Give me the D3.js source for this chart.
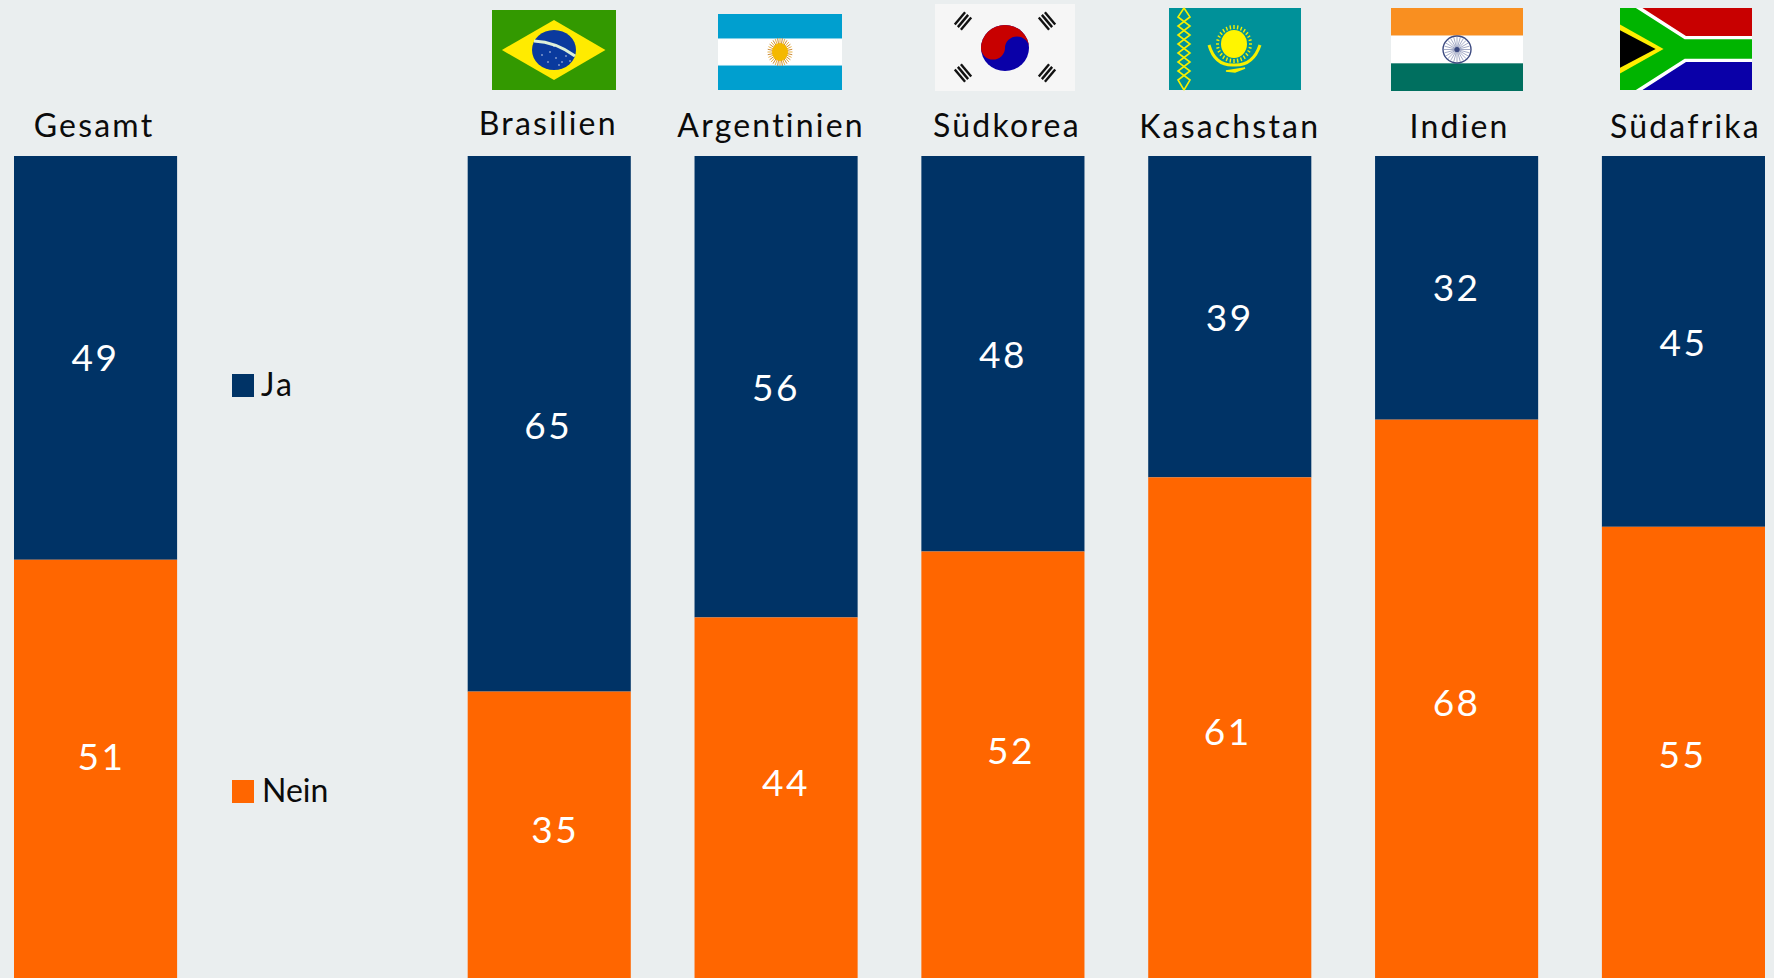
<!DOCTYPE html>
<html lang="de">
<head>
<meta charset="utf-8">
<title>Ja / Nein nach Ländern</title>
<script src="https://cdn.jsdelivr.net/npm/d3@7"></script>
<style>
  html, body { margin: 0; padding: 0; background: #EAEEEF; overflow: hidden; }
  svg { display: block; }
  text { font-family: Lato, "Open Sans", sans-serif; }
</style>
</head>
<body>
<svg id="chart" width="1774" height="978"></svg>
<script>
const categories = ["Gesamt", "Brasilien", "Argentinien", "Südkorea", "Kasachstan", "Indien", "Südafrika"];
const jaValues   = [49, 65, 56, 48, 39, 32, 45];
const neinValues = [51, 35, 44, 52, 61, 68, 55];
const seriesNames = ["Ja", "Nein"];

const NAVY = "#003366", ORANGE = "#FF6600";

// Slot order along the x axis; the empty slot holds the legend.
const slots = ["Gesamt", "_legend", ...categories.slice(1)];

const svg = d3.select("#chart");
const x = d3.scaleBand().domain(slots).range([14, 1765]).paddingInner(0.281);
const y = d3.scaleLinear().domain([0, 100]).range([156, 980]);

// Hand placement of the value labels and headings relative to their defaults.
const jaNudge   = [[0, 0], [-1, 2], [0, 1], [0, 1], [0, 1], [0, 0], [0, 2]];
const neinNudge = [[6, -13], [6, -6], [10, -16], [8, -15], [-2, 3], [0, 3], [-1, 2]];
const headNudge = [[-1.5, 137], [-1, 135], [-5, 137], [4, 137], [0, 138], [3, 138], [2, 138]];

const rows = categories.map((c, i) => ({ c, i, ja: jaValues[i], nein: neinValues[i] }));
const cols = svg.selectAll("g.col").data(rows).join("g").attr("class", "col");

cols.append("rect")
  .attr("x", d => x(d.c)).attr("width", x.bandwidth())
  .attr("y", y(0)).attr("height", d => y(d.ja) - y(0))
  .attr("fill", NAVY);
cols.append("rect")
  .attr("x", d => x(d.c)).attr("width", x.bandwidth())
  .attr("y", d => y(d.ja)).attr("height", d => y(d.ja + d.nein) - y(d.ja))
  .attr("fill", ORANGE);

const valueText = (sel) => sel
  .attr("text-anchor", "middle").attr("fill", "#fff")
  .attr("font-size", 37).attr("letter-spacing", 2.5).attr("font-weight", 400);

cols.append("text").call(valueText)
  .attr("x", d => x(d.c) + x.bandwidth() / 2 + jaNudge[d.i][0])
  .attr("y", d => (y(0) + y(d.ja)) / 2 + jaNudge[d.i][1] + 13)
  .text(d => d.ja);
cols.append("text").call(valueText)
  .attr("x", d => x(d.c) + x.bandwidth() / 2 + neinNudge[d.i][0])
  .attr("y", d => (y(d.ja) + y(100)) / 2 + neinNudge[d.i][1] + 13)
  .text(d => d.nein);

cols.append("text")
  .attr("x", d => x(d.c) + x.bandwidth() / 2 + headNudge[d.i][0])
  .attr("y", d => headNudge[d.i][1])
  .attr("text-anchor", "middle").attr("fill", "#0b0b0b")
  .attr("font-size", 32).attr("letter-spacing", 2.2)
  .text(d => d.c);

// Legend
const legendY = [374, 780];
const legend = svg.selectAll("g.leg").data(seriesNames).join("g").attr("class", "leg");
legend.append("rect")
  .attr("x", 232).attr("y", (d, i) => legendY[i])
  .attr("width", 22).attr("height", 23)
  .attr("fill", (d, i) => i ? ORANGE : NAVY);
legend.append("text")
  .attr("x", (d, i) => i ? 262 : 261).attr("y", (d, i) => legendY[i] + 22)
  .attr("fill", "#0b0b0b").attr("font-size", 32)
  .attr("letter-spacing", (d, i) => i ? 0 : 2)
  .text(d => d);

// Flags, drawn in a unit box so each can be stretched to its slot.
function flagGroup(bx, by, bw, bh) {
  const g = svg.append("g").attr("transform", `translate(${bx},${by})`);
  const sx = d3.scaleLinear().domain([0, 1]).range([0, bw]);
  const sy = d3.scaleLinear().domain([0, 1]).range([0, bh]);
  const rect = (a, b, c, d, fill) => g.append("rect")
    .attr("x", sx(a)).attr("y", sy(b)).attr("width", sx(c - a)).attr("height", sy(d - b)).attr("fill", fill);
  const poly = (pts, fill) => g.append("polygon")
    .attr("points", pts.map(q => [sx(q[0]), sy(q[1])].join(",")).join(" ")).attr("fill", fill);
  return { g, sx, sy, rect, poly, bw, bh };
}

// Brasilien
{
  const f = flagGroup(492, 10, 124, 80);
  f.rect(0, 0, 1, 1, "#339900");
  f.poly([[.08, .5], [.5, .125], [.915, .5], [.5, .875]], "#FFEB00");
  f.g.append("ellipse").attr("cx", 62).attr("cy", 40).attr("rx", 22).attr("ry", 20).attr("fill", "#0A3A9E");
  f.g.append("path").attr("d", "M42,31 Q64,32 83,46").attr("fill", "none").attr("stroke", "#DCEFD8").attr("stroke-width", 3);
  [[50, 45], [58, 42], [64, 48], [70, 52], [56, 52], [74, 46], [62, 36], [67, 55], [78, 51]].forEach(p =>
    f.g.append("circle").attr("cx", p[0]).attr("cy", p[1]).attr("r", .7).attr("fill", "#fff"));
}

// Argentinien
{
  const f = flagGroup(718, 14, 124, 76);
  f.rect(0, 0, 1, 1, "#009FCF");
  f.rect(0, .32, 1, .68, "#BFE6F2");
  f.rect(0, .33, 1, .67, "#FFFFFF");
  const cx = 62, cy = 38;
  d3.range(32).forEach(k => {
    const a = k / 32 * 2 * Math.PI;
    f.g.append("line")
      .attr("x1", cx).attr("y1", cy)
      .attr("x2", cx + 12.5 * Math.cos(a)).attr("y2", cy + 14 * Math.sin(a))
      .attr("stroke", k % 2 ? "#C98A3A" : "#E8B040").attr("stroke-width", 1);
  });
  f.g.append("ellipse").attr("cx", cx).attr("cy", cy).attr("rx", 8).attr("ry", 9).attr("fill", "#F4B800");
}

// Südkorea
{
  const f = flagGroup(935, 4, 140, 87);
  f.rect(0, 0, 1, 1, "#F6F6F6");
  const cx = 70, cy = 44, rx = 24, ry = 23;
  f.g.append("ellipse").attr("cx", cx).attr("cy", cy).attr("rx", rx).attr("ry", ry).attr("fill", "#0A00A8");
  f.g.append("path")
    .attr("d", `M${cx - rx},${cy} A${rx},${ry} 0 0 1 ${cx + rx},${cy} A${rx / 2},${ry / 2} 0 0 0 ${cx},${cy} A${rx / 2},${ry / 2} 0 0 1 ${cx - rx},${cy} Z`)
    .attr("fill", "#C80000");
  // Trigram bars at the four corners
  [[28, 17, -50], [112, 17, 50], [28, 69, 50], [112, 69, -50]].forEach(t => {
    const tg = f.g.append("g").attr("transform", `translate(${t[0]},${t[1]}) rotate(${t[2]})`);
    [-4, 0, 4].forEach(o => tg.append("rect").attr("x", -8).attr("y", o - 1.2).attr("width", 16).attr("height", 2.4).attr("fill", "#111"));
  });
}

// Kasachstan
{
  const f = flagGroup(1169, 8, 132, 82);
  f.rect(0, 0, 1, 1, "#009199");
  const Y = "#F5F000";
  f.g.append("path")
    .attr("d", "M15,0 L9,9 L21,18 L9,27 L21,36 L9,45 L21,54 L9,63 L21,72 L15,82 M15,0 L21,9 L9,18 L21,27 L9,36 L21,45 L9,54 L21,63 L9,72 L15,82")
    .attr("fill", "none").attr("stroke", Y).attr("stroke-width", 1.6);
  const cx = 65, cy = 36;
  d3.range(28).forEach(k => {
    const a = k / 28 * 2 * Math.PI;
    f.g.append("line")
      .attr("x1", cx + 15 * Math.cos(a)).attr("y1", cy + 15 * Math.sin(a))
      .attr("x2", cx + 18 * Math.cos(a)).attr("y2", cy + 19 * Math.sin(a))
      .attr("stroke", Y).attr("stroke-width", 1.4);
  });
  f.g.append("ellipse").attr("cx", cx).attr("cy", cy).attr("rx", 13).attr("ry", 14).attr("fill", "#FFF500");
  f.g.append("path").attr("d", "M40,37 Q46,58 65,57 Q84,58 91,37").attr("fill", "none").attr("stroke", Y).attr("stroke-width", 3);
  f.g.append("path").attr("d", "M57,63 L76,60 L66,64 Z").attr("fill", Y).attr("stroke", Y).attr("stroke-width", 1.5);
}

// Indien
{
  const f = flagGroup(1391, 8, 132, 83);
  f.rect(0, 0, 1, 1 / 3, "#F98F20");
  f.rect(0, 1 / 3, 1, 2 / 3, "#FFFFFF");
  f.rect(0, 2 / 3, 1, 1, "#006F5F");
  const cx = 66, cy = 41.5;
  f.g.append("ellipse").attr("cx", cx).attr("cy", cy).attr("rx", 14).attr("ry", 13.5).attr("fill", "none").attr("stroke", "#3C4A80").attr("stroke-width", 1.4);
  d3.range(24).forEach(k => {
    const a = k / 24 * 2 * Math.PI;
    f.g.append("line")
      .attr("x1", cx).attr("y1", cy)
      .attr("x2", cx + 13 * Math.cos(a)).attr("y2", cy + 13 * Math.sin(a))
      .attr("stroke", "#7C86AE").attr("stroke-width", .7);
  });
  f.g.append("circle").attr("cx", cx).attr("cy", cy).attr("r", 2.6).attr("fill", "#3C4A80");
}

// Südafrika
{
  const f = flagGroup(1620, 8, 132, 82);
  f.rect(0, 0, 1, .5, "#C80000");
  f.rect(0, .5, 1, 1, "#0A00A8");
  f.poly([[0, 0], [.17, 0], [.5, .34], [1, .34], [1, .66], [.5, .66], [.17, 1], [0, 1]], "#FFFFFF");
  f.poly([[0, 0], [.12, 0], [.49, .38], [1, .38], [1, .62], [.49, .62], [.12, 1], [0, 1]], "#00B400");
  f.poly([[0, .2], [.33, .5], [0, .8]], "#FFEE00");
  f.poly([[0, .27], [.27, .5], [0, .73]], "#000000");
}
</script>
</body>
</html>
